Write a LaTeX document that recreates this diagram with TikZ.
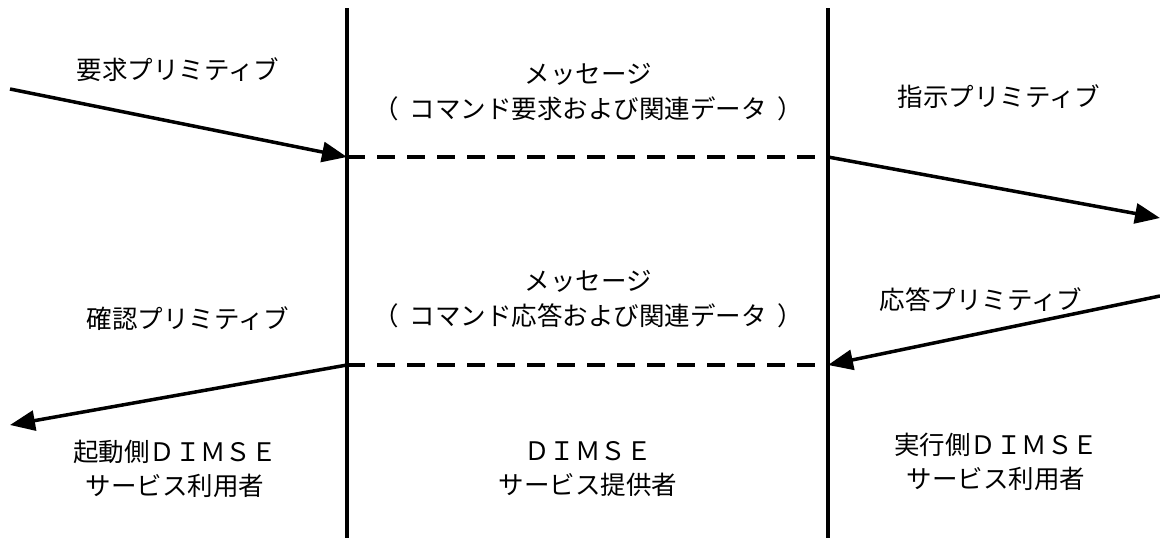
\documentclass[tikz,border=0pt]{standalone}
\usepackage{fontspec}
\setmainfont{Noto Sans CJK JP}
\usetikzlibrary{arrows.meta}
\newcommand{\lp}{\makebox[1em][l]{\hspace{-0.42em}（}}
\newcommand{\rp}{\makebox[1em][r]{）\hspace{-0.42em}}}
\begin{document}
\begin{tikzpicture}[x=1pt,y=-1pt,
  lifeline/.style={line width=4.5pt},
  msgline/.style={line width=3.5pt, dash pattern=on 18pt off 12pt},
  prim/.style={line width=3.5pt, -{Triangle[length=25pt,width=20pt]}},
  lbl/.style={font=\fontsize{25.5}{34.5}\selectfont, align=center, inner sep=0pt}]
\useasboundingbox (0,0) rectangle (1160,538);
% lifelines
\coordinate (LT) at (347,8);
\coordinate (LB) at (347,538);
\coordinate (RT) at (828,8);
\coordinate (RB) at (828,538);
\draw[lifeline] (LT) -- (LB);
\draw[lifeline] (RT) -- (RB);
% message points
\coordinate (L1) at (347,157);
\coordinate (R1) at (828,157);
\coordinate (L2) at (347,365);
\coordinate (R2) at (828,365);
\draw[msgline] (L1) -- (R1);
\draw[msgline] (L2) -- (R2);
% primitive arrows
\coordinate (reqS) at (10,89);
\coordinate (indE) at (1160,218);
\coordinate (rspS) at (1160,296);
\coordinate (cnfE) at (10,425);
\draw[prim] (reqS) -- (L1);
\draw[prim] (R1) -- (indE);
\draw[prim] (rspS) -- (R2);
\draw[prim] (L2) -- (cnfE);
% labels
\node[lbl] (req) at (178,70) {要求プリミティブ};
\node[lbl] (msg1) at (588,92) {メッセージ\\\lp コマンド要求および関連データ\rp};
\node[lbl] (ind) at (999,97) {指示プリミティブ};
\node[lbl] (msg2) at (588,299) {メッセージ\\\lp コマンド応答および関連データ\rp};
\node[lbl] (cnf) at (188,319) {確認プリミティブ};
\node[lbl] (rsp) at (981,300) {応答プリミティブ};
\node[lbl] (inv) at (175,469) {起動側ＤＩＭＳＥ\\サービス利用者};
\node[lbl] (prov) at (588,469) {ＤＩＭＳＥ\\サービス提供者};
\node[lbl] (perf) at (996,462) {実行側ＤＩＭＳＥ\\サービス利用者};
\end{tikzpicture}
\end{document}
